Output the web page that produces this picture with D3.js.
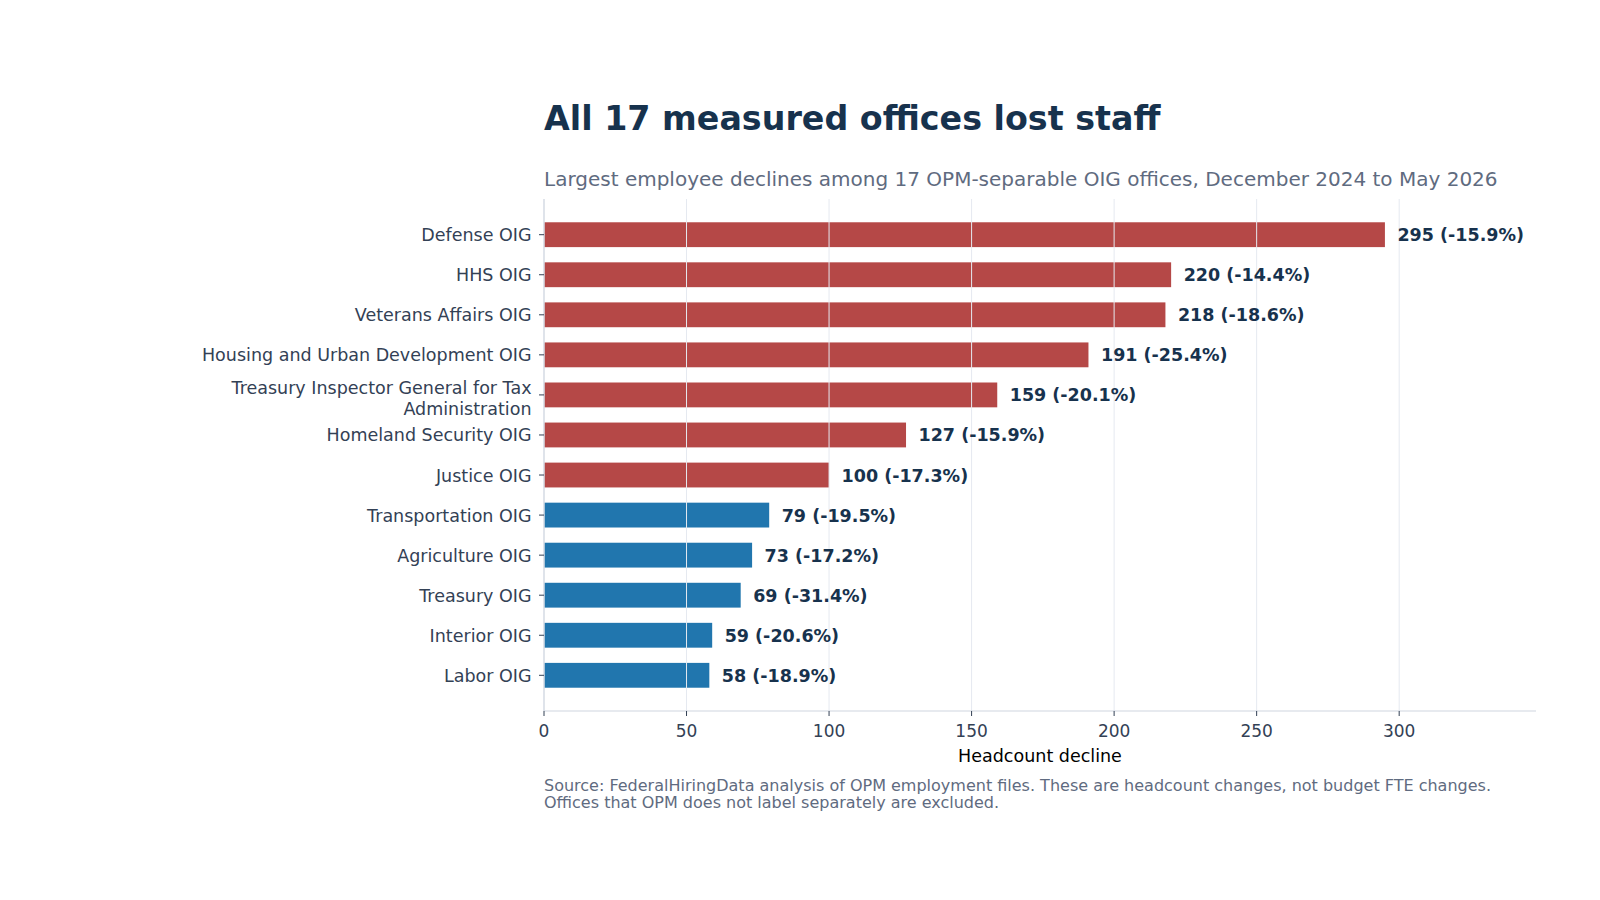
<!DOCTYPE html>
<html>
<head>
<meta charset="utf-8">
<script src="https://cdn.jsdelivr.net/npm/d3@7"></script>
<style>
  body { margin: 0; background: #fff; }
  svg { display: block; font-family: "DejaVu Sans", sans-serif; }
</style>
</head>
<body>
<svg id="chart" width="1600" height="900"></svg>
<script>
// Offices, largest decline first
const offices = [
  "Defense OIG",
  "HHS OIG",
  "Veterans Affairs OIG",
  "Housing and Urban Development OIG",
  "Treasury Inspector General for Tax Administration",
  "Homeland Security OIG",
  "Justice OIG",
  "Transportation OIG",
  "Agriculture OIG",
  "Treasury OIG",
  "Interior OIG",
  "Labor OIG"
];
const declines = [295, 220, 218, 191, 159, 127, 100, 79, 73, 69, 59, 58];
const pctChanges = [-15.9, -14.4, -18.6, -25.4, -20.1, -15.9, -17.3, -19.5, -17.2, -31.4, -20.6, -18.9];
const xTicks = [0, 50, 100, 150, 200, 250, 300];

// Labels split across lines like the original
const labelLines = {
  "Treasury Inspector General for Tax Administration": ["Treasury Inspector General for Tax", "Administration"]
};

const rows = offices.map((o, i) => ({ office: o, value: declines[i], pct: pctChanges[i] }));

const svg = d3.select("#chart");
const plotLeft = 544, plotRight = 1536, plotTop = 199, plotBottom = 711;

const x = d3.scaleLinear().domain([0, 348]).range([plotLeft, plotRight]);

// matplotlib style band: bar height 0.62 with 5% margins
const n = rows.length;
const span = n - 1 + 0.62;
const step = (plotBottom - plotTop) / (span * 1.1);
const y = d3.scaleLinear()
  .domain([-0.31 - 0.05 * span, n - 1 + 0.31 + 0.05 * span])
  .range([plotTop, plotBottom]);
const yPos = name => y(offices.indexOf(name));
const barH = 0.62 * step;

// Title and subtitle
svg.append("text").attr("x", plotLeft).attr("y", 130)
  .attr("font-size", 33.3).attr("font-weight", "bold").attr("fill", "#17324d")
  .text("All 17 measured offices lost staff");
svg.append("text").attr("x", plotLeft).attr("y", 186)
  .attr("font-size", 20).attr("fill", "#5f6b80")
  .text("Largest employee declines among 17 OPM-separable OIG offices, December 2024 to May 2026");

// Bars
svg.append("g").selectAll("rect")
  .data(rows)
  .enter()
  .append("rect")
  .attr("x", x(0))
  .attr("y", d => yPos(d.office) - barH / 2)
  .attr("width", d => x(d.value) - x(0))
  .attr("height", barH)
  .attr("fill", d => d.value >= 100 ? "#b54847" : "#2176ae");

// Vertical grid, drawn over the bars
svg.append("g").selectAll("line")
  .data(xTicks)
  .enter()
  .append("line")
  .attr("x1", d => x(d)).attr("x2", d => x(d))
  .attr("y1", plotTop).attr("y2", plotBottom)
  .attr("stroke", "#e5e9f0").attr("stroke-width", 1);

// Spines
svg.append("line").attr("x1", plotLeft).attr("x2", plotLeft).attr("y1", plotTop).attr("y2", plotBottom)
  .attr("stroke", "#cfd6e0").attr("stroke-width", 1.1);
svg.append("line").attr("x1", plotLeft).attr("x2", plotRight).attr("y1", plotBottom).attr("y2", plotBottom)
  .attr("stroke", "#cfd6e0").attr("stroke-width", 1.1);

// X axis ticks and labels
const xg = svg.append("g");
xg.selectAll("line")
  .data(xTicks)
  .enter()
  .append("line")
  .attr("x1", d => x(d)).attr("x2", d => x(d))
  .attr("y1", plotBottom).attr("y2", plotBottom + 5)
  .attr("stroke", "#334155").attr("stroke-width", 1);
xg.selectAll("text")
  .data(xTicks)
  .enter()
  .append("text")
  .attr("x", d => x(d)).attr("y", plotBottom + 26)
  .attr("text-anchor", "middle").attr("font-size", 17).attr("fill", "#334155")
  .text(d => d);
svg.append("text").attr("x", (plotLeft + plotRight) / 2).attr("y", 762)
  .attr("text-anchor", "middle").attr("font-size", 17.5).attr("fill", "#000")
  .text("Headcount decline");

// Y axis ticks and category labels
const yg = svg.append("g");
yg.selectAll("line")
  .data(rows)
  .enter()
  .append("line")
  .attr("x1", plotLeft - 5).attr("x2", plotLeft)
  .attr("y1", d => yPos(d.office)).attr("y2", d => yPos(d.office))
  .attr("stroke", "#334155").attr("stroke-width", 1);
yg.selectAll("text")
  .data(rows)
  .enter()
  .append("text")
  .attr("text-anchor", "end").attr("font-size", 17.5).attr("fill", "#334155")
  .each(function(d) {
    const lines = labelLines[d.office] || [d.office];
    const t = d3.select(this);
    const lh = 21;
    const shift = lines.length > 1 ? 3 : 0;
    lines.forEach((ln, i) => {
      t.append("tspan")
        .attr("x", plotLeft - 12.5)
        .attr("y", yPos(d.office) + (i - (lines.length - 1) / 2) * lh + 6.5 + shift)
        .text(ln);
    });
  });

// Value labels
svg.append("g").selectAll("text")
  .data(rows)
  .enter()
  .append("text")
  .attr("x", d => x(d.value) + 12.5)
  .attr("y", d => yPos(d.office) + 6.5)
  .attr("font-size", 17.5).attr("font-weight", "bold").attr("fill", "#17324d")
  .text(d => `${d.value} (${d.pct.toFixed(1)}%)`);

// Source note
const note = svg.append("text").attr("font-size", 16).attr("fill", "#5f6b80");
note.append("tspan").attr("x", plotLeft).attr("y", 791)
  .text("Source: FederalHiringData analysis of OPM employment files. These are headcount changes, not budget FTE changes.");
note.append("tspan").attr("x", plotLeft).attr("y", 808)
  .text("Offices that OPM does not label separately are excluded.");
</script>
</body>
</html>
